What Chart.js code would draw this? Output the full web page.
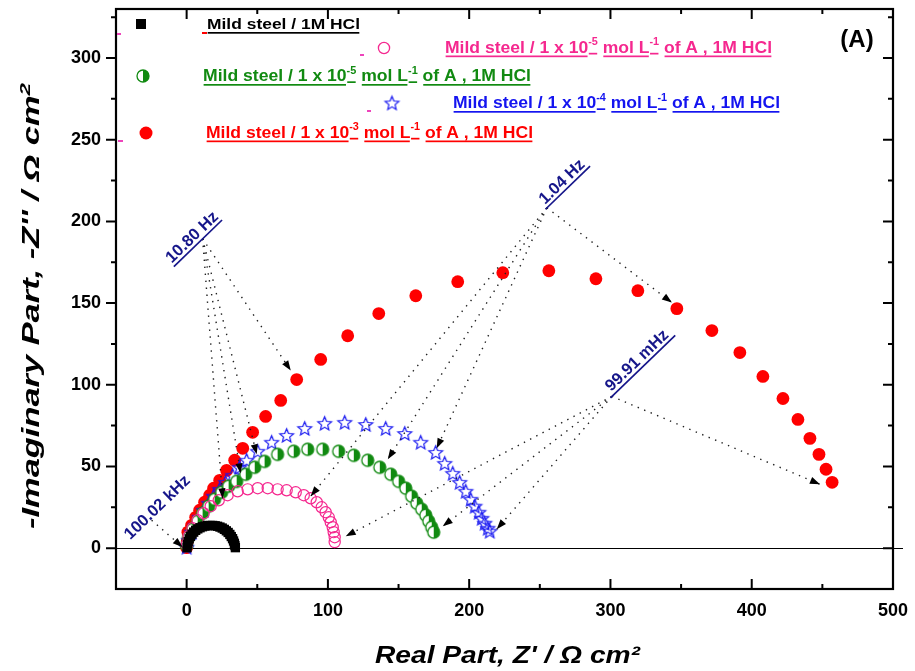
<!DOCTYPE html>
<html>
<head>
<meta charset="utf-8">
<title>Nyquist plots</title>
<script src="https://cdn.jsdelivr.net/npm/chart.js@4.4.1/dist/chart.umd.min.js"></script>
<style>
  html, body { margin: 0; padding: 0; background: #ffffff; }
  #wrap { width: 915px; height: 671px; position: relative; }
</style>
</head>
<body>
<div id="wrap"><canvas id="nyquist" width="915" height="671"></canvas></div>
<script>
// Impedance data: Z' (real) and -Z'' (imaginary), in Ω cm²
const blankZre = [0.3, 0.6, 1.1, 1.8, 2.7, 3.8, 5.0, 6.4, 7.9, 9.5, 11.2, 13.0, 14.8, 16.6, 18.4, 20.2, 21.9, 23.6, 25.2, 26.7, 28.1, 29.4, 30.6, 31.6, 32.5, 33.2, 33.8, 34.2, 34.5];
const blankZim = [0.3, 2.2, 4.0, 5.7, 7.2, 8.6, 9.8, 10.9, 11.8, 12.5, 13.1, 13.5, 13.8, 13.9, 13.9, 13.7, 13.4, 12.9, 12.3, 11.5, 10.6, 9.6, 8.4, 7.1, 5.8, 4.4, 3.0, 1.6, 0.3];

const inh5aZre = [0.2, 1.4, 4.2, 7.8, 12.0, 17.0, 22.7, 29.0, 36.1, 43.2, 50.3, 57.4, 64.4, 70.8, 77.2, 82.9, 87.8, 92.1, 95.6, 98.4, 100.6, 102.0, 103.4, 104.1, 104.8, 104.8];
const inh5aZim = [2.4, 7.3, 12.2, 17.1, 21.4, 25.7, 29.3, 32.4, 34.8, 36.0, 36.7, 36.7, 36.0, 35.4, 34.2, 32.4, 30.5, 28.1, 25.0, 22.0, 18.9, 15.9, 12.8, 9.8, 6.7, 3.7];

const inh5bZre = [0, 1.4, 4.2, 7.8, 11.3, 15.6, 19.8, 24.8, 29.7, 35.4, 41.8, 48.2, 55.2, 64.4, 75.8, 85.7, 96.3, 107.6, 118.3, 128.2, 136.7, 144.5, 150.1, 155.1, 159.3, 162.9, 166.4, 169.3, 171.4, 173.5, 174.9];
const inh5bZim = [1.8, 6.7, 11.6, 16.5, 21.4, 25.7, 29.9, 34.2, 37.9, 40.9, 45.2, 49.5, 53.1, 57.4, 59.3, 60.5, 60.5, 59.3, 56.8, 53.8, 49.5, 45.2, 40.9, 36.7, 31.8, 27.5, 23.8, 20.2, 16.5, 12.8, 9.8];

const inh4Zre = [0, 1.4, 3.5, 6.4, 9.2, 12.0, 15.6, 19.1, 23.4, 27.6, 32.6, 37.5, 42.5, 50.3, 60.2, 70.8, 83.6, 97.7, 111.9, 126.8, 140.9, 154.4, 165.7, 176.3, 182.7, 188.4, 193.3, 197.6, 201.1, 204.0, 206.8, 208.9, 211.0, 213.2, 214.6];
const inh4Zim = [0.6, 4.9, 9.8, 14.0, 18.9, 23.2, 27.5, 31.8, 36.0, 40.3, 44.6, 49.5, 53.8, 59.3, 64.8, 69.0, 73.3, 76.4, 77.0, 75.7, 73.3, 70.2, 64.8, 58.6, 51.9, 45.8, 40.3, 34.8, 29.9, 25.7, 22.0, 18.3, 15.3, 12.2, 10.4];

const inh3Zre = [0, 0.5, 0.9, 3.5, 6.4, 9.2, 12.7, 16.3, 19.1, 23.4, 28.3, 34.0, 39.7, 46.7, 55.9, 66.6, 77.9, 94.9, 114.0, 136.0, 162.2, 191.9, 223.8, 256.4, 289.7, 319.4, 347.0, 371.8, 391.6, 407.9, 422.1, 432.7, 441.2, 447.6, 452.6, 456.9];
const inh3Zim = [0.3, 4.3, 9.8, 14.0, 18.9, 23.2, 28.1, 32.4, 36.7, 41.5, 47.6, 53.8, 61.1, 70.9, 80.6, 90.4, 103.2, 115.5, 130.0, 143.6, 154.5, 163.1, 168.6, 169.8, 164.9, 157.6, 146.6, 133.2, 119.7, 105.1, 91.6, 78.8, 67.2, 57.4, 48.3, 40.3];

const xTickValues = [0, 100, 200, 300, 400, 500];
const yTickValues = [0, 50, 100, 150, 200, 250, 300];

// Frequency call-outs: anchor and arrow tips in data units (Z', -Z'')
const freqNotes = [
  { text: '10.80 Hz', at: [11.3, 189.4], ul: [-40, 27], tc: -6.5, tn: 8,
    tips: [[73.7, 108.7], [49.6, 57.4], [38.2, 45.8], [25.5, 30.5]] },
  { text: '1.04 Hz', at: [255.0, 208.3], ul: [-2, 60], tc: 29, tn: 8,
    tips: [[343.5, 150.3], [177.0, 61.1], [142.4, 54.4], [87.8, 31.8]] },
  { text: '99.91 mHz', at: [301.0, 92.9], ul: [-2, 88], tc: 43, tn: 8,
    tips: [[448.3, 39.1], [219.5, 11.6], [181.3, 13.4], [112.6, 7.3]] },
  { text: '100.02 kHz', at: [-24.8, 17.1], ul: null, tc: 13, tn: 5,
    tips: [[-2.8, 0.6]] }
];

const FONT = "'Liberation Sans', Arial, Helvetica, sans-serif";
const PINK = '#f5288f';
const GREEN = '#118a11';
const BLUE = '#1414f0';
const RED = '#ff0000';
const NAVY = '#16168a';

function toPoints(xs, ys) { return xs.map((x, i) => ({ x: x, y: ys[i] })); }

// Marker sprites
function halfCircleSprite(r, color) {
  const s = Math.ceil(r * 2 + 4), c = document.createElement('canvas');
  c.width = s; c.height = s;
  const g = c.getContext('2d'), m = s / 2;
  g.fillStyle = '#ffffff';
  g.beginPath(); g.arc(m, m, r, 0, Math.PI * 2); g.fill();
  g.fillStyle = color;
  g.beginPath(); g.moveTo(m, m - r); g.arc(m, m, r, -Math.PI / 2, Math.PI / 2); g.closePath(); g.fill();
  g.strokeStyle = color; g.lineWidth = 1.3;
  g.beginPath(); g.arc(m, m, r, 0, Math.PI * 2); g.stroke();
  return c;
}
function starSprite(R, color) {
  const s = Math.ceil(R * 2 + 4), c = document.createElement('canvas');
  c.width = s; c.height = s;
  const g = c.getContext('2d'), m = s / 2;
  g.beginPath();
  for (let i = 0; i < 10; i++) {
    const a = -Math.PI / 2 + i * Math.PI / 5, rr = (i % 2) ? R * 0.45 : R;
    const px = m + rr * Math.cos(a), py = m + 0.6 + rr * Math.sin(a);
    if (i === 0) g.moveTo(px, py); else g.lineTo(px, py);
  }
  g.closePath();
  g.strokeStyle = color; g.lineWidth = 1.2; g.stroke();
  return c;
}
const halfGreen = halfCircleSprite(6, GREEN);
const starBlue = starSprite(7.2, BLUE);

// Text with superscripts and Origin-style segmented underlines
function drawRich(ctx, parts, x, baseline, o) {
  const style = (o.italic ? 'italic ' : '') + 'bold ';
  const mainFont = style + o.size + 'px ' + FONT;
  const supFont = style + o.supSize + 'px ' + FONT;
  let w = 0;
  const widths = parts.map(p => { ctx.font = p.sup ? supFont : mainFont; const m = ctx.measureText(p.t).width; w += m; return m; });
  const sx = o.targetW ? o.targetW / w : 1;
  ctx.save();
  ctx.translate(x, baseline);
  if (o.rotate) ctx.rotate(o.rotate);
  ctx.scale(sx, 1);
  ctx.fillStyle = o.color; ctx.textAlign = 'left'; ctx.textBaseline = 'alphabetic';
  let cx = 0;
  parts.forEach((p, i) => {
    ctx.font = p.sup ? supFont : mainFont;
    ctx.fillText(p.t, cx, p.sup ? -o.supRise : 0);
    if (o.underline && !p.sp) ctx.fillRect(cx + 0.6, p.sup ? o.supUl : o.ul, widths[i] - 1.2, o.ulw);
    cx += widths[i];
  });
  ctx.restore();
}

function inhParts(exp) {
  return [{ t: 'Mild steel / 1 x 10' }, { t: exp, sup: true }, { t: ' ', sp: true },
          { t: 'mol L' }, { t: '-1', sup: true }, { t: ' ', sp: true }, { t: 'of A , 1M HCl' }];
}

const legendRows = [
  { marker: 'square', mx: 141, my: 24, tx: 207, base: 29, tw: 153, size: 15.5, color: '#000000', parts: [{ t: 'Mild steel / 1M HCl' }] },
  { marker: 'ring', mx: 384, my: 48, tx: 445, base: 52.5, tw: 327, size: 17, color: PINK, parts: inhParts('-5') },
  { marker: 'half', mx: 143, my: 76, tx: 203, base: 81, tw: 328, size: 17, color: GREEN, parts: inhParts('-5') },
  { marker: 'star', mx: 392, my: 103, tx: 453, base: 108, tw: 327, size: 17, color: BLUE, parts: inhParts('-4') },
  { marker: 'dot', mx: 146, my: 133, tx: 206, base: 137.5, tw: 327, size: 17, color: RED, parts: inhParts('-3') }
];
const legendDashes = [
  { x: 202, y: 33, w: 5, c: RED }, { x: 117, y: 34, w: 4, c: '#ee44bb' },
  { x: 360, y: 55, w: 4, c: '#ee44bb' }, { x: 367, y: 111, w: 4, c: '#ee44bb' },
  { x: 118, y: 141, w: 5, c: '#ee44bb' }
];

function arrowHead(ctx, x0, y0, x1, y1) {
  const a = Math.atan2(y1 - y0, x1 - x0), L = 10, H = 3.6;
  ctx.beginPath();
  ctx.moveTo(x1, y1);
  ctx.lineTo(x1 - L * Math.cos(a) + H * Math.sin(a), y1 - L * Math.sin(a) - H * Math.cos(a));
  ctx.lineTo(x1 - L * Math.cos(a) - H * Math.sin(a), y1 - L * Math.sin(a) + H * Math.cos(a));
  ctx.closePath();
  ctx.fill();
}

const decorations = {
  id: 'decorations',
  beforeDatasetsDraw(chart) {
    const { ctx, chartArea: ca, scales: { x, y } } = chart;
    // Z'' = 0 baseline
    ctx.save();
    ctx.strokeStyle = '#000'; ctx.lineWidth = 1.2;
    const y0 = Math.round(y.getPixelForValue(0)) + 0.5;
    ctx.beginPath(); ctx.moveTo(ca.left, y0); ctx.lineTo(ca.right + 10, y0); ctx.stroke();
    ctx.restore();
  },
  afterDatasetsDraw(chart) {
    const { ctx, chartArea: ca, scales: { x, y } } = chart;
    ctx.save();
    // Frame
    ctx.strokeStyle = '#000'; ctx.lineWidth = 2.2;
    ctx.strokeRect(ca.left, ca.top, ca.right - ca.left, ca.bottom - ca.top);
    // Tick marks: outward on the left axis, inward elsewhere
    ctx.lineWidth = 2;
    ctx.beginPath();
    for (let v = -50; v <= 500; v += 50) {
      if (v <= x.min || v >= x.max) continue;
      const px = x.getPixelForValue(v), len = (v % 100 === 0) ? 10 : 5;
      ctx.moveTo(px, ca.bottom); ctx.lineTo(px, ca.bottom - len);
      ctx.moveTo(px, ca.top); ctx.lineTo(px, ca.top + len);
    }
    for (let v = 0; v <= 325; v += 25) {
      const py = y.getPixelForValue(v), len = (v % 50 === 0) ? 10 : 5;
      ctx.moveTo(ca.left, py); ctx.lineTo(ca.left - len, py);
      ctx.moveTo(ca.right, py); ctx.lineTo(ca.right - len, py);
    }
    ctx.stroke();

    // Frequency call-outs with dotted arrows
    const ang = -44 * Math.PI / 180;
    freqNotes.forEach(n => {
      const ax = x.getPixelForValue(n.at[0]), ay = y.getPixelForValue(n.at[1]);
      n.tips.forEach(t => {
        const tx = x.getPixelForValue(t[0]), ty = y.getPixelForValue(t[1]);
        ctx.save();
        ctx.strokeStyle = '#202020'; ctx.lineWidth = 1.4; ctx.setLineDash([1.4, 5.6]);
        ctx.beginPath(); ctx.moveTo(ax, ay); ctx.lineTo(tx, ty); ctx.stroke();
        ctx.restore();
        ctx.fillStyle = '#000'; arrowHead(ctx, ax, ay, tx, ty);
      });
      ctx.save();
      ctx.translate(ax, ay); ctx.rotate(ang);
      ctx.fillStyle = NAVY;
      if (n.ul) ctx.fillRect(n.ul[0], -0.8, n.ul[1] - n.ul[0], 1.7);
      ctx.font = 'bold 16.5px ' + FONT; ctx.textAlign = 'center'; ctx.textBaseline = 'middle';
      ctx.fillText(n.text, n.tc, -n.tn);
      ctx.restore();
    });

    // Legend block
    legendDashes.forEach(d => { ctx.fillStyle = d.c; ctx.fillRect(d.x, d.y - 1, d.w, 2); });
    legendRows.forEach(r => {
      if (r.marker === 'square') { ctx.fillStyle = '#000'; ctx.fillRect(r.mx - 5, r.my - 5, 10, 10); }
      if (r.marker === 'ring') { ctx.strokeStyle = PINK; ctx.lineWidth = 1.3; ctx.beginPath(); ctx.arc(r.mx, r.my, 5.6, 0, Math.PI * 2); ctx.stroke(); }
      if (r.marker === 'half') ctx.drawImage(halfGreen, r.mx - halfGreen.width / 2, r.my - halfGreen.height / 2);
      if (r.marker === 'star') ctx.drawImage(starBlue, r.mx - starBlue.width / 2, r.my - starBlue.height / 2);
      if (r.marker === 'dot') { ctx.fillStyle = RED; ctx.beginPath(); ctx.arc(r.mx, r.my, 6.5, 0, Math.PI * 2); ctx.fill(); }
      drawRich(ctx, r.parts, r.tx, r.base, {
        size: r.size, supSize: r.size * 0.62, supRise: r.size * 0.42, color: r.color,
        underline: true, ul: 3, supUl: 0.3, ulw: 1.7, targetW: r.tw
      });
    });

    // Panel tag
    ctx.fillStyle = '#000'; ctx.font = 'bold 24px ' + FONT; ctx.textAlign = 'center'; ctx.textBaseline = 'middle';
    ctx.fillText('(A)', 857, 40);

    // Axis titles
    drawRich(ctx, [{ t: 'Real Part, Z\' / \u03A9 cm\u00B2' }], 375, 663,
      { italic: true, size: 24, supSize: 15, supRise: 9, color: '#000', targetW: 265 });
    drawRich(ctx, [{ t: '-Imaginary Part, -Z\'\' / \u03A9 cm' }, { t: '2', sup: true }], 39, 529,
      { italic: true, size: 23, supSize: 15, supRise: 9, color: '#000', targetW: 446, rotate: -Math.PI / 2 });
    ctx.restore();
  }
};

// Scale boxes are pinned so the plot frame keeps a fixed place on the page
function pinScale(size, key) {
  return s => {
    s[key] = size;
    s.paddingTop = 0; s.paddingBottom = 0; s.paddingLeft = 0; s.paddingRight = 0;
  };
}

const ds = (label, xs, ys, extra) => Object.assign({ label: label, data: toPoints(xs, ys), showLine: false }, extra);

new Chart(document.getElementById('nyquist'), {
  type: 'scatter',
  data: {
    datasets: [
      ds('Mild steel / 1M HCl', blankZre, blankZim,
        { pointStyle: 'rect', pointRadius: 6.6, backgroundColor: '#000', borderColor: '#000', borderWidth: 0 }),
      ds('Mild steel / 1 x 10-5 mol L-1 of A , 1M HCl', inh5aZre, inh5aZim,
        { pointStyle: 'circle', pointRadius: 5.6, backgroundColor: 'rgba(0,0,0,0)', borderColor: PINK, borderWidth: 1.2 }),
      ds('Mild steel / 1 x 10-5 mol L-1 of A , 1M HCl (2)', inh5bZre, inh5bZim,
        { pointStyle: halfGreen, pointRadius: 6 }),
      ds('Mild steel / 1 x 10-4 mol L-1 of A , 1M HCl', inh4Zre, inh4Zim,
        { pointStyle: starBlue, pointRadius: 7 }),
      ds('Mild steel / 1 x 10-3 mol L-1 of A , 1M HCl', inh3Zre, inh3Zim,
        { pointStyle: 'circle', pointRadius: 6.4, backgroundColor: RED, borderColor: RED, borderWidth: 0 })
    ]
  },
  options: {
    responsive: false,
    animation: false,
    devicePixelRatio: 1,
    events: [],
    layout: { padding: { top: 9, right: 22, left: 0, bottom: 0 } },
    plugins: { legend: { display: false }, tooltip: { enabled: false } },
    scales: {
      x: {
        type: 'linear', position: 'bottom', min: -50, max: 500,
        afterBuildTicks: s => { s.ticks = xTickValues.map(v => ({ value: v })); },
        afterFit: pinScale(82, 'height'),
        grid: { display: false, drawTicks: false },
        border: { display: false },
        ticks: { color: '#000', padding: 11, maxRotation: 0, autoSkip: false,
                 font: { family: FONT, size: 18, weight: 'bold' } }
      },
      y: {
        type: 'linear', position: 'left', min: -25, max: 330,
        afterBuildTicks: s => { s.ticks = yTickValues.map(v => ({ value: v })); },
        afterFit: pinScale(116, 'width'),
        grid: { display: false, drawTicks: false },
        border: { display: false },
        ticks: { color: '#000', padding: 15, autoSkip: false,
                 font: { family: FONT, size: 18, weight: 'bold' } }
      }
    }
  },
  plugins: [decorations]
});
</script>
</body>
</html>
